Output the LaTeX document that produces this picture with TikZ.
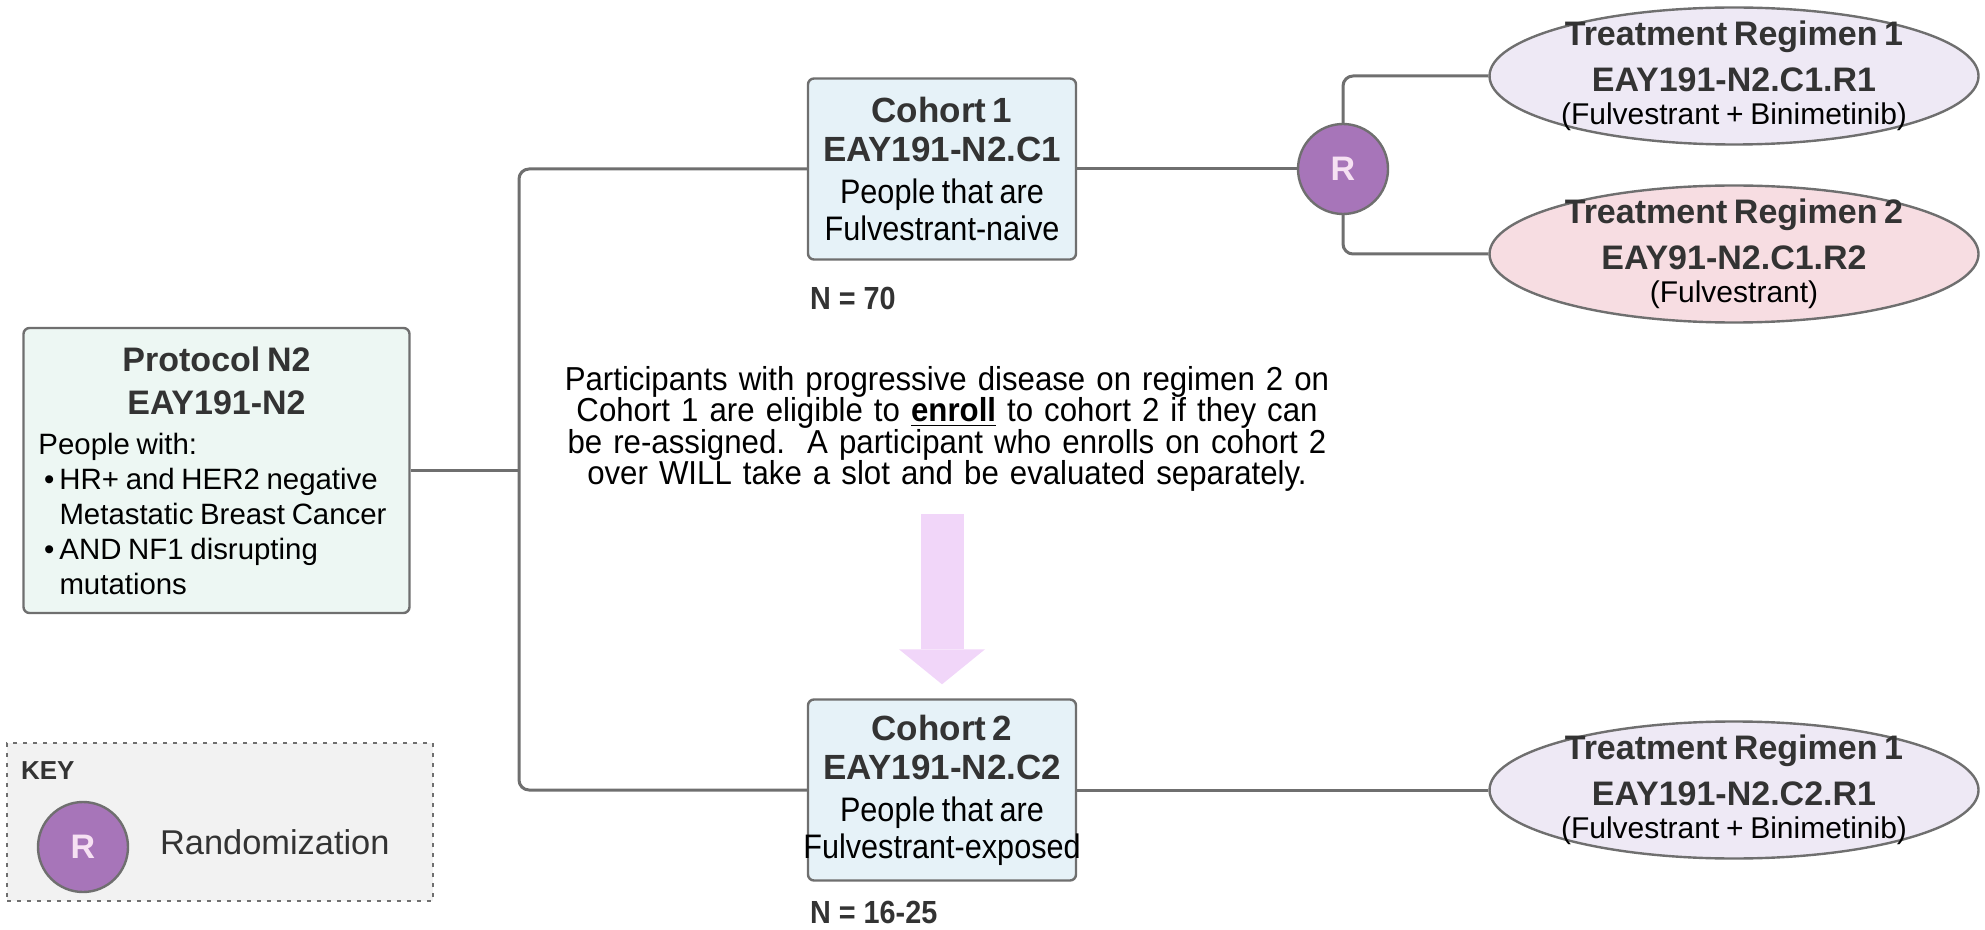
\documentclass[tikz,border=0pt]{standalone}
\usepackage{fontspec}
\setmainfont{Liberation Sans}
\newfontfamily\narrowfont[FakeStretch=0.9]{Liberation Sans}
\newfontfamily\notefont[FakeStretch=0.94]{Liberation Sans}
\usepackage{tikz}
\usetikzlibrary{arrows.meta}
\usetikzlibrary{shapes.geometric}

\definecolor{linegray}{HTML}{6F6F6F}
\definecolor{titlegray}{HTML}{333333}
\definecolor{protomint}{HTML}{EDF7F3}
\definecolor{cohortblue}{HTML}{E6F2F8}
\definecolor{regpurple}{HTML}{EEE9F5}
\definecolor{regpink}{HTML}{F7DDE2}
\definecolor{randpurple}{HTML}{A775B9}
\definecolor{randtext}{HTML}{F6E1F3}
\definecolor{arrowpink}{HTML}{F1D6F9}
\definecolor{keygray}{HTML}{F2F2F2}

\newcommand{\boxtitle}{\fontsize{17.5}{19.5}\selectfont\bfseries\color{titlegray}}
\newcommand{\narrowtext}{\narrowfont\fontsize{17}{18.5}\selectfont}

\tikzset{
	link/.style={draw=linegray, line width=1.5pt, rounded corners=5pt},
	protobox/.style={draw=linegray, line width=1.2pt, fill=protomint,
		rounded corners=3pt, text width=178pt, inner xsep=7.5pt,
		minimum height=142.5pt},
	cohortbox/.style={draw=linegray, line width=1.2pt, fill=cohortblue,
		rounded corners=3pt, text width=140pt, inner xsep=-3pt,
		minimum height=90.5pt, align=center},
	regimen/.style={ellipse, draw=linegray, line width=1.2pt,
		minimum width=244.5pt, minimum height=68.5pt, text width=176pt,
		inner xsep=-2.5pt, inner ysep=-6pt, align=center},
	randnode/.style={circle, draw=linegray, line width=1.2pt, fill=randpurple,
		minimum size=45pt, inner sep=0pt, text=randtext,
		font=\fontsize{17}{17}\selectfont\bfseries},
	nlabel/.style={anchor=west, text=titlegray,
		font=\narrowfont\fontsize{16}{16}\selectfont\bfseries},
	keybox/.style={draw=linegray, line width=0.8pt, dash pattern=on 2pt off 3pt,
		fill=keygray, minimum width=213pt, minimum height=79pt},
	bigarrow/.style={draw=arrowpink, line width=21.5pt, shorten >=7pt,
		-{Triangle[width=43pt, length=17.5pt, line width=0pt]}},
}

\begin{document}
\begin{tikzpicture}[x=0.5pt, y=-0.5pt]
	\useasboundingbox (0,0) rectangle (1985,930);

	% protocol
	\node[protobox] (proto) at (216.5,470.5) {%
		\raggedright\parindent=0pt
		{\centering\fontsize{17}{21.5}\selectfont\bfseries\color{titlegray}
			Protocol N2\\EAY191-N2\par}
		\vspace{2.5pt}
		\fontsize{14.7}{17.5}\selectfont
		People with:\par
		{\leftskip=10.5pt
		\noindent\llap{\textbullet\hspace{2.5pt}}HR+ and HER2 negative\\Metastatic Breast Cancer\par
		\noindent\llap{\textbullet\hspace{2.5pt}}AND NF1 disrupting\\mutations\par}};

	% cohorts
	\foreach \name/\ypos/\num/\who in {coh1/169/1/naive, coh2/790/2/exposed}{
		\node[cohortbox] (\name) at (942,\ypos) {%
			{\boxtitle Cohort \num\\EAY191-N2.C\num\par}
			\vspace{2.5pt}
			{\narrowtext People that are\\Fulvestrant-\who\par}};
	}
	\node[nlabel] (n1) at (803,298) {N = 70};
	\node[nlabel] (n2) at (803,912) {N = 16-25};

	\coordinate (junction) at (519,470.5);
	\draw[link] (proto.east) -- (junction);
	\draw[link] (coh1.west) -| (junction) |- (coh2.west);

	% randomization and regimens
	\node[randnode] (rand) at (1343,169) {R};

	\foreach \name/\ypos/\col/\num/\code/\drug in {%
			reg1/76/regpurple/1/EAY191-N2.C1.R1/Fulvestrant + Binimetinib,
			reg2/254/regpink/2/EAY91-N2.C1.R2/Fulvestrant,
			reg3/790/regpurple/1/EAY191-N2.C2.R1/Fulvestrant + Binimetinib}{
		\node[regimen, fill=\col] (\name) at (1734,\ypos) {%
			{\fontsize{17}{23}\selectfont\bfseries\color{titlegray}
				Treatment Regimen \num\\\code\par}
			\vspace{-3pt}
			{\fontsize{15}{19.5}\selectfont (\drug)\par}};
	}

	\draw[link] (coh1.east) -- (rand.west);
	\draw[link] (rand.north) |- (reg1.west);
	\draw[link] (rand.south) |- (reg2.west);
	\draw[link] (coh2.east) -- (reg3.west);

	% re-assignment note
	\node[text width=400pt, align=center,
		font=\notefont\fontsize{16.6}{15.8}\selectfont] (note) at (947,429)
		{Participants with progressive disease on regimen 2 on\\
		Cohort 1 are eligible to \textbf{\underline{enroll}} to cohort 2 if they can\\
		be re-assigned.\ \ A participant who enrolls on cohort 2\\
		over WILL take a slot and be evaluated separately.};

	\coordinate (arrowtop) at (942,514);
	\draw[bigarrow] (arrowtop) -- (coh2.north);

	% key
	\node[keybox] (key) at (220,822) {};
	\node[anchor=west, text=titlegray, font=\fontsize{13}{13}\selectfont\bfseries]
		(keytitle) at (14,771) {KEY};
	\node[randnode] (keyrand) at (83,847) {R};
	\node[anchor=west, text=titlegray, font=\fontsize{17.2}{17.2}\selectfont]
		(keytext) at (153,842) {Randomization};
\end{tikzpicture}
\end{document}
